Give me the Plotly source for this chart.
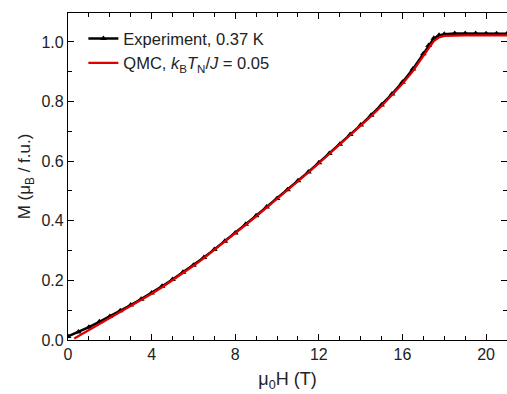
import plotly.graph_objects as go

# Experiment, 0.37 K (field in T, magnetization in muB/f.u.)
exp_H = [0, 0.5, 1, 1.5, 2, 2.5, 3, 3.5, 4, 4.5, 5, 5.5, 6, 6.5, 7, 7.5, 8, 8.5,
         9, 9.5, 10, 10.5, 11, 11.5, 12, 12.5, 13, 13.5, 14, 14.5, 15, 15.5,
         16, 16.5, 17, 17.25, 17.5, 17.75, 18, 18.5, 19, 19.5, 20, 20.5, 21]
exp_M = [0.012, 0.027, 0.043, 0.061, 0.079, 0.098, 0.117, 0.137, 0.158, 0.180,
         0.203, 0.227, 0.251, 0.277, 0.304, 0.331, 0.359, 0.388, 0.417, 0.446,
         0.475, 0.504, 0.534, 0.564, 0.595, 0.626, 0.657, 0.689, 0.721, 0.754,
         0.788, 0.825, 0.865, 0.909, 0.960, 0.988, 1.012, 1.022, 1.026, 1.028,
         1.028, 1.028, 1.027, 1.027, 1.027]

# QMC, kB TN / J = 0.05
qmc_H = [0.3, 0.5, 1, 1.5, 2, 2.5, 3, 3.5, 4, 4.5, 5, 5.5, 6, 6.5, 7, 7.5, 8, 8.5,
         9, 9.5, 10, 10.5, 11, 11.5, 12, 12.5, 13, 13.5, 14, 14.5, 15, 15.5,
         16, 16.5, 17, 17.25, 17.5, 17.75, 18, 18.5, 19, 19.5, 20, 20.5, 21]
qmc_M = [0.005, 0.013, 0.033, 0.053, 0.073, 0.093, 0.113, 0.134, 0.155, 0.177,
         0.200, 0.224, 0.249, 0.275, 0.302, 0.329, 0.357, 0.386, 0.415, 0.444,
         0.473, 0.502, 0.532, 0.562, 0.593, 0.624, 0.655, 0.687, 0.719, 0.751,
         0.785, 0.821, 0.860, 0.902, 0.950, 0.978, 1.003, 1.015, 1.020, 1.022,
         1.022, 1.022, 1.022, 1.022, 1.022]

x_ticks = [0, 4, 8, 12, 16, 20]
y_ticks = [0.0, 0.2, 0.4, 0.6, 0.8, 1.0]

FONT = "Liberation Sans, Arial, sans-serif"
TXT = "#222"

fig = go.Figure()
fig.add_trace(go.Scatter(
    x=exp_H, y=exp_M, mode="lines+markers", name="Experiment, 0.37 K",
    line=dict(color="black", width=2.5),
    marker=dict(symbol="triangle-up", size=6, color="black"),
))
fig.add_trace(go.Scatter(
    x=qmc_H, y=qmc_M, mode="lines",
    name="QMC, <i>k</i><sub>B</sub><i>T</i><sub>N</sub>/<i>J</i> = 0.05",
    line=dict(color="#e00000", width=2.2),
))

axis_common = dict(
    showline=True, linecolor="black", linewidth=1.2, mirror="allticks",
    ticks="inside", ticklen=6, tickwidth=1.2, tickcolor="black",
    showgrid=False, zeroline=False,
    tickfont=dict(family=FONT, size=16, color=TXT),
)

fig.update_xaxes(
    **axis_common, range=[0, 21], tickvals=x_ticks,
    ticktext=[str(v) for v in x_ticks],
    minor=dict(dtick=1, ticks="inside", ticklen=3.5, tickwidth=1, tickcolor="black"),
    title=dict(text="μ<sub>0</sub>H (T)", font=dict(family=FONT, size=18, color=TXT),
               standoff=10),
)
fig.update_yaxes(
    **axis_common, range=[0, 1.097], tickvals=y_ticks,
    ticktext=[f"{v:.1f}" for v in y_ticks],
    minor=dict(dtick=0.1, tick0=0, ticks="inside", ticklen=3.5, tickwidth=1, tickcolor="black"),
    title=dict(text="M (μ<sub>B</sub> / f.u.)", font=dict(family=FONT, size=17, color=TXT),
               standoff=6),
)

fig.update_layout(
    width=507, height=394,
    margin=dict(l=68, r=0, t=13, b=54),
    paper_bgcolor="white", plot_bgcolor="white",
    showlegend=True,
    legend=dict(x=0.035, y=0.975, xanchor="left", yanchor="top",
                bgcolor="rgba(0,0,0,0)", tracegroupgap=0,
                font=dict(family=FONT, size=16.5, color=TXT),
                itemwidth=30),
)

fig.write_html("out.html")
